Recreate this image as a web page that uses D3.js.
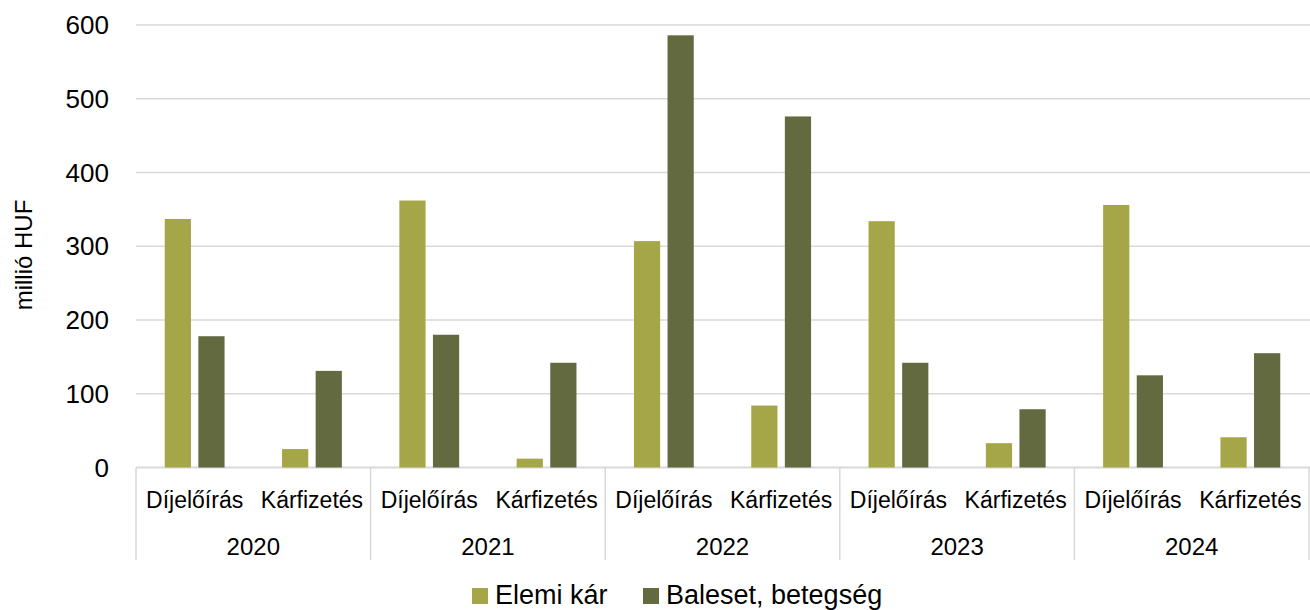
<!DOCTYPE html>
<html>
<head>
<meta charset="utf-8">
<script src="https://cdn.jsdelivr.net/npm/d3@7"></script>
<style>
  body { margin: 0; background: #fff; }
  svg text { font-family: "Liberation Sans", Arial, sans-serif; fill: #000; }
</style>
</head>
<body>
<div id="chart"></div>
<script>
// data
var years = ["2020", "2021", "2022", "2023", "2024"];
var categories = ["Díjelőírás", "Kárfizetés"];
var seriesNames = ["Elemi kár", "Baleset, betegség"];
// one value per year+category, in order 2020 Díj, 2020 Kár, 2021 Díj ...
var elemiKar = [337, 25, 362, 12, 307, 84, 334, 33, 356, 41];
var balesetBetegseg = [178, 131, 180, 142, 586, 476, 142, 79, 125, 155];
var yTicks = [0, 100, 200, 300, 400, 500, 600];
var colors = ["#a5a647", "#636a40"];

var width = 1310, height = 610;
var margin = {top: 25, right: 0, bottom: 143, left: 136};

var svg = d3.select("#chart")
  .append("svg")
  .attr("width", width)
  .attr("height", height);

var rows = [];
years.forEach(function(yr, i) {
  categories.forEach(function(cat, j) {
    var k = i * categories.length + j;
    rows.push({key: yr + "|" + cat, year: yr, cat: cat, values: [elemiKar[k], balesetBetegseg[k]]});
  });
});

var x0 = d3.scaleBand()
  .domain(rows.map(function(d) { return d.key; }))
  .range([margin.left, width - 1])
  .paddingInner(0.49)
  .paddingOuter(0.245);

var x1 = d3.scaleBand()
  .domain(seriesNames)
  .range([0, x0.bandwidth()])
  .paddingInner(0.22);

var yearScale = d3.scaleBand()
  .domain(years)
  .range([margin.left, width - 1]);

var y = d3.scaleLinear()
  .domain([0, 600])
  .range([height - margin.bottom + 0.5, margin.top]);

// gridlines
svg.append("g")
  .selectAll("line")
  .data(yTicks)
  .enter()
  .append("line")
    .attr("x1", margin.left)
    .attr("x2", width)
    .attr("y1", function(d) { return y(d); })
    .attr("y2", function(d) { return y(d); })
    .style("stroke", "#d9d9d9")
    .style("stroke-width", function(d) { return d === 0 ? 2 : 1.5; });

// y tick labels
svg.append("g")
  .selectAll("text")
  .data(yTicks)
  .enter()
  .append("text")
    .attr("x", 109)
    .attr("y", function(d) { return y(d); })
    .attr("dy", "0.35em")
    .attr("text-anchor", "end")
    .style("font-size", "26px")
    .text(function(d) { return d; });

// y axis title
svg.append("text")
  .attr("transform", "translate(32,255) rotate(-90)")
  .attr("text-anchor", "middle")
  .style("font-size", "24px")
  .text("millió HUF");

// bars
var groups = svg.append("g")
  .selectAll("g")
  .data(rows)
  .enter()
  .append("g")
    .attr("transform", function(d) { return "translate(" + x0(d.key) + ",0)"; });

groups.selectAll("rect")
  .data(function(d) { return d.values.map(function(v, i) { return {name: seriesNames[i], value: v, i: i}; }); })
  .enter()
  .append("rect")
    .attr("x", function(d) { return x1(d.name); })
    .attr("y", function(d) { return y(d.value); })
    .attr("width", x1.bandwidth())
    .attr("height", function(d) { return y(0) - y(d.value); })
    .style("fill", function(d) { return colors[d.i]; });

// category labels
svg.append("g")
  .selectAll("text")
  .data(rows)
  .enter()
  .append("text")
    .attr("x", function(d) { return x0(d.key) + x0.bandwidth() / 2; })
    .attr("y", 508)
    .attr("text-anchor", "middle")
    .style("font-size", "23px")
    .text(function(d) { return d.cat; });

// year labels
svg.append("g")
  .selectAll("text")
  .data(years)
  .enter()
  .append("text")
    .attr("x", function(d) { return yearScale(d) + yearScale.bandwidth() / 2; })
    .attr("y", 555)
    .attr("text-anchor", "middle")
    .style("font-size", "24px")
    .text(function(d) { return d; });

// year separators
var seps = years.map(function(d) { return yearScale(d); }).concat([width - 1]);
svg.append("g")
  .selectAll("line")
  .data(seps)
  .enter()
  .append("line")
    .attr("x1", function(d) { return d; })
    .attr("x2", function(d) { return d; })
    .attr("y1", y(0))
    .attr("y2", 560)
    .style("stroke", "#d9d9d9")
    .style("stroke-width", 1.5);

// legend
var legend_x = [472, 643];
var legend = svg.append("g")
  .selectAll("g")
  .data(seriesNames)
  .enter()
  .append("g")
    .attr("transform", function(d, i) { return "translate(" + legend_x[i] + ",588)"; });
legend.append("rect")
  .attr("width", 16)
  .attr("height", 16)
  .style("fill", function(d, i) { return colors[i]; });
legend.append("text")
  .attr("x", 23)
  .attr("y", 16)
  .style("font-size", "27px")
  .text(function(d) { return d; });
</script>
</body>
</html>
